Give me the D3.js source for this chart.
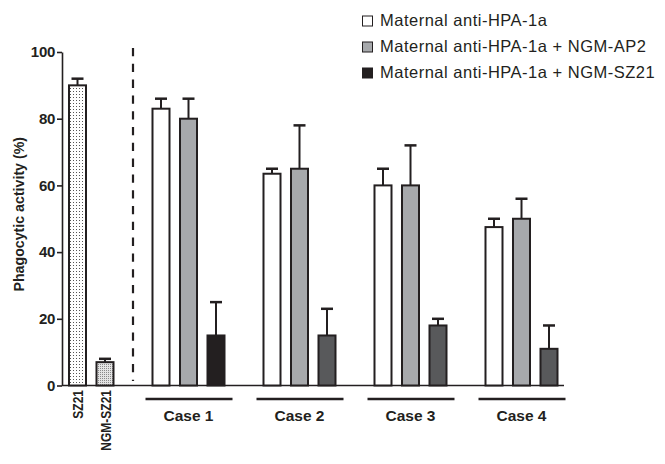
<!DOCTYPE html>
<html>
<head>
<meta charset="utf-8">
<script src="https://cdn.jsdelivr.net/npm/d3@7"></script>
<style>
  html, body { margin: 0; padding: 0; background: #fff; }
  svg { display: block; }
  text { font-family: "Liberation Sans", Arial, Helvetica, sans-serif; fill: #231f20; }
</style>
</head>
<body>
<svg id="chart" width="665" height="464"></svg>
<script>
// ---- data ----
const controlLabels = ["SZ21", "NGM-SZ21"];
const controlValues = [90, 7];
const controlUpper = [92, 8];

const cases = ["Case 1", "Case 2", "Case 3", "Case 4"];
const seriesNames = [
  "Maternal anti-HPA-1a",
  "Maternal anti-HPA-1a + NGM-AP2",
  "Maternal anti-HPA-1a + NGM-SZ21"
];
const maternalValues = [83, 63.5, 60, 47.5];
const maternalUpper = [86, 65, 65, 50];
const ap2Values = [80, 65, 60, 50];
const ap2Upper = [86, 78, 72, 56];
const sz21Values = [15, 15, 18, 11];
const sz21Upper = [25, 23, 20, 18];
const yTicks = [0, 20, 40, 60, 80, 100];
const yLabel = "Phagocytic activity (%)";

// ---- styles ----
const ink = "#231f20";
const seriesFill = ["#ffffff", "#a7a9ac", "#58595b"];
const legendFill = ["#ffffff", "#a7a9ac", "#231f20"];
const case1ThirdFill = "#231f20";

const svg = d3.select("#chart");

// patterns
const defs = svg.append("defs");
const p1 = defs.append("pattern").attr("id", "dotsWhite")
  .attr("patternUnits", "userSpaceOnUse").attr("width", 3).attr("height", 3);
p1.append("rect").attr("width", 3).attr("height", 3).attr("fill", "#fff");
p1.append("rect").attr("x", 1).attr("y", 1).attr("width", 1).attr("height", 1).attr("fill", "#555");
const p2 = defs.append("pattern").attr("id", "dotsGray")
  .attr("patternUnits", "userSpaceOnUse").attr("width", 2).attr("height", 2);
p2.append("rect").attr("width", 2).attr("height", 2).attr("fill", "#e4e4e4");
p2.append("rect").attr("x", 0).attr("y", 0).attr("width", 1).attr("height", 1).attr("fill", "#8a8a8a");
const controlFill = ["url(#dotsWhite)", "url(#dotsGray)"];

// scales
const y = d3.scaleLinear().domain([0, 100]).range([385.5, 52]);
const xCtrl = d3.scaleBand().domain(controlLabels).range([63.75, 118.75])
  .paddingInner(0.309).paddingOuter(0.1545);
const xCase = d3.scaleBand().domain(cases).range([133, 577]);
const xSeries = d3.scaleBand().domain(d3.range(3)).range([14.25, 96.75])
  .paddingInner(0.309).paddingOuter(0.1545);

// y axis
const yAxis = svg.append("g").attr("transform", "translate(62,0)")
  .call(d3.axisLeft(y).tickValues(yTicks).tickSize(5).tickPadding(2).tickSizeOuter(0));
yAxis.select(".domain").attr("stroke", ink).attr("stroke-width", 1.6);
yAxis.selectAll(".tick line").attr("stroke", ink).attr("stroke-width", 1.6);
yAxis.selectAll(".tick text").attr("font-size", 15).attr("font-weight", "bold")
  .attr("fill", ink).attr("letter-spacing", -0.3)
  .style("font-family", "'Liberation Sans', Arial, sans-serif");

// x axis line
svg.append("line").attr("x1", 62).attr("x2", xCase.range()[1] - 13)
  .attr("y1", y(0)).attr("y2", y(0)).attr("stroke", ink).attr("stroke-width", 1.6);

// y label
svg.append("text")
  .attr("transform", `translate(23.5,${(y(0) + y(100)) / 2 - 4.5}) rotate(-90)`)
  .attr("text-anchor", "middle").attr("font-size", 14.2).attr("font-weight", "bold")
  .text(yLabel);

// dashed separator
svg.append("line").attr("x1", xCase.range()[0]).attr("x2", xCase.range()[0])
  .attr("y1", 48).attr("y2", 381).attr("stroke", ink).attr("stroke-width", 2.2)
  .attr("stroke-dasharray", "8.3,7.5");

function errorBar(cx, v, u) {
  svg.append("line").attr("x1", cx).attr("x2", cx).attr("y1", y(v)).attr("y2", y(u))
    .attr("stroke", ink).attr("stroke-width", 2);
  svg.append("line").attr("x1", cx - 6).attr("x2", cx + 6).attr("y1", y(u)).attr("y2", y(u))
    .attr("stroke", ink).attr("stroke-width", 2.5);
}

// control bars
controlLabels.forEach((lab, i) => {
  const x0 = xCtrl(lab), w = xCtrl.bandwidth();
  errorBar(x0 + w / 2, controlValues[i], controlUpper[i]);
  svg.append("rect").attr("x", x0 + 1).attr("y", y(controlValues[i]))
    .attr("width", w - 2).attr("height", y(0) - y(controlValues[i]))
    .attr("fill", controlFill[i]).attr("stroke", ink).attr("stroke-width", 2);
  svg.append("text")
    .attr("transform", `translate(${x0 + w / 2 + 5.5},${y(0) + 4.5}) rotate(-90) scale(0.8,1)`)
    .attr("text-anchor", "end").attr("font-size", 15).attr("font-weight", "bold")
    .text(lab);
});

// case bars
const seriesValues = [maternalValues, ap2Values, sz21Values];
const seriesUpper = [maternalUpper, ap2Upper, sz21Upper];
cases.forEach((c, ci) => {
  const g0 = xCase(c);
  seriesValues.forEach((vals, si) => {
    const x0 = g0 + xSeries(si), w = xSeries.bandwidth();
    const v = vals[ci];
    errorBar(x0 + w / 2, v, seriesUpper[si][ci]);
    const fill = (si === 2 && ci === 0) ? case1ThirdFill : seriesFill[si];
    svg.append("rect").attr("x", x0 + 1).attr("y", y(v))
      .attr("width", w - 2).attr("height", y(0) - y(v))
      .attr("fill", fill).attr("stroke", ink).attr("stroke-width", 2);
  });
  const cx = g0 + xCase.bandwidth() / 2;
  svg.append("line").attr("x1", cx - 43).attr("x2", cx + 44)
    .attr("y1", 399).attr("y2", 399).attr("stroke", ink).attr("stroke-width", 2.5);
  svg.append("text").attr("x", cx).attr("y", 421).attr("text-anchor", "middle")
    .attr("font-size", 15.5).attr("font-weight", "bold").text(c);
});

// legend
const legend = svg.append("g").attr("transform", "translate(362,0)");
seriesNames.forEach((name, i) => {
  const by = 26 + i * 26;
  legend.append("rect").attr("x", 0.5).attr("y", by - 10).attr("width", 10).attr("height", 10)
    .attr("fill", legendFill[i]).attr("stroke", ink).attr("stroke-width", 1);
  legend.append("text").attr("x", 18).attr("y", by).attr("font-size", 16.5)
    .attr("letter-spacing", 0.5).text(name);
});
</script>
</body>
</html>
